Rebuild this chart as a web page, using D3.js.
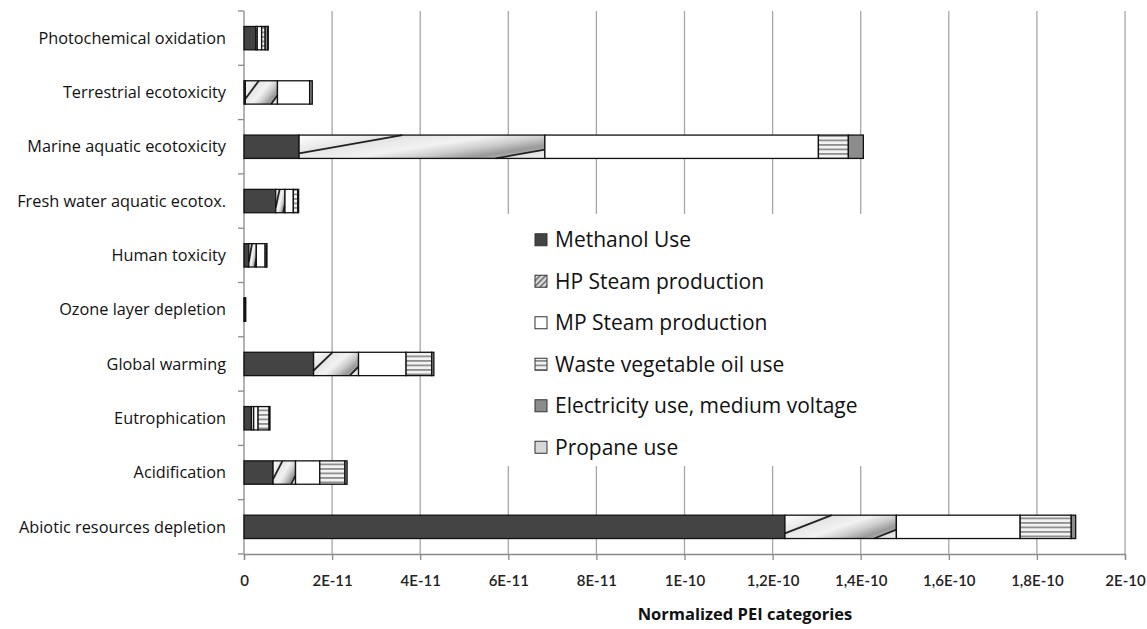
<!DOCTYPE html>
<html><head><meta charset="utf-8">
<script src="https://cdn.jsdelivr.net/npm/d3@7"></script>
<style>body{margin:0;background:#fff;} svg{display:block;font-family:"Open Sans",sans-serif;}</style>
</head><body><svg id="c" width="1147" height="629"></svg>
<script>
const categories = ["Photochemical oxidation","Terrestrial ecotoxicity","Marine aquatic ecotoxicity","Fresh water aquatic ecotox.","Human toxicity","Ozone layer depletion","Global warming","Eutrophication","Acidification","Abiotic resources depletion"];
const seriesNames = ["Methanol Use","HP Steam production","MP Steam production","Waste vegetable oil use","Electricity use, medium voltage","Propane use"];
// values in units of 1E-11
const methanolUse   = [0.27, 0.03, 1.25, 0.72, 0.11, 0.01, 1.58, 0.17, 0.66, 12.28];
const hpSteam       = [0.03, 0.73, 5.58, 0.21, 0.17, 0.01, 1.02, 0.05, 0.51, 2.53];
const mpSteam       = [0.10, 0.73, 6.21, 0.19, 0.20, 0.01, 1.08, 0.10, 0.55, 2.81];
const wasteOil      = [0.08, 0.00, 0.68, 0.10, 0.03, 0.00, 0.58, 0.25, 0.57, 1.16];
const electricity   = [0.06, 0.06, 0.34, 0.02, 0.01, 0.01, 0.05, 0.02, 0.05, 0.10];
const propane       = [0.01, 0.00, 0.00, 0.00, 0.00, 0.00, 0.00, 0.00, 0.00, 0.00];
const tickValues = [0,2,4,6,8,10,12,14,16,18,20];
const tickLabels = ["0","2E-11","4E-11","6E-11","8E-11","1E-10","1,2E-10","1,4E-10","1,6E-10","1,8E-10","2E-10"];
const xTitle = "Normalized PEI categories";

const seriesVals = [methanolUse,hpSteam,mpSteam,wasteOil,electricity,propane];
const rows = categories.map((c,i)=>{const r={cat:c}; seriesNames.forEach((s,j)=>r[s]=seriesVals[j][i]); return r;});
const stack = d3.stack().keys(seriesNames)(rows);

const svg = d3.select("#c");
const L=244, R=1125, T=11, B=554;
const x = d3.scaleLinear().domain([0,20]).range([L,R]);
const y = d3.scaleBand().domain(categories).range([T,B]).paddingInner(0.57).paddingOuter(0.285);

const defs = svg.append("defs");
function grad(id, x1,y1,x2,y2, stops){
  const g = defs.append("linearGradient").attr("id",id).attr("x1",x1).attr("y1",y1).attr("x2",x2).attr("y2",y2);
  stops.forEach(([o,c])=>g.append("stop").attr("offset",o).attr("stop-color",c));
}
grad("hpbg",0,0.2,1,0.8,[[0,"#c4c4c4"],[0.3,"#e8e8e8"],[0.5,"#f2f2f2"],[0.68,"#cdcdcd"],[0.85,"#999"],[1,"#b8b8b8"]]);
grad("hptl",0,0,1,1,[[0,"#ffffff"],[0.5,"#e4e4e4"],[1,"#a0a0a0"]]);
grad("hpbr",0,0,1,1,[[0,"#cfcfcf"],[1,"#f2f2f2"]]);
// legend hatch
const p3 = defs.append("pattern").attr("id","hpl").attr("patternUnits","userSpaceOnUse").attr("width",4).attr("height",4).attr("patternTransform","rotate(45)");
p3.append("rect").attr("width",4).attr("height",4).attr("fill","#ddd");
p3.append("rect").attr("width",1.5).attr("height",4).attr("fill","#666");
const p2 = defs.append("pattern").attr("id","wo").attr("patternUnits","userSpaceOnUse").attr("width",8).attr("height",4.5);
p2.append("rect").attr("width",8).attr("height",4.5).attr("fill","#f2f2f2");
p2.append("rect").attr("y",0).attr("width",8).attr("height",1.8).attr("fill","#8f8f8f");
const fills = {"Methanol Use":"#444","HP Steam production":"url(#hpbg)","MP Steam production":"#fff","Waste vegetable oil use":"url(#wo)","Electricity use, medium voltage":"#8c8c8c","Propane use":"#d8d8d8"};

// gridlines
svg.append("g").selectAll("line").data(tickValues.slice(1)).join("line")
  .attr("x1",d=>x(d)).attr("x2",d=>x(d)).attr("y1",T).attr("y2",B)
  .attr("stroke","#a6a6a6").attr("stroke-width",1.3);

// x axis
const xa = svg.append("g").attr("transform",`translate(0,${B})`)
  .call(d3.axisBottom(x).tickValues(tickValues).tickFormat((d,i)=>tickLabels[i]).tickSize(6).tickPadding(15));
xa.select(".domain").attr("stroke","#8a8a8a").attr("stroke-width",1.3);
xa.selectAll(".tick line").attr("stroke","#8a8a8a").attr("stroke-width",1.3);
xa.selectAll("text").attr("font-size",15).attr("font-weight",600).attr("fill","#222").attr("font-family","Lato, sans-serif");

// y axis
const yEdges = d3.range(categories.length+1).map(i=>T+i*(B-T)/categories.length);
svg.append("line").attr("x1",L).attr("x2",L).attr("y1",T).attr("y2",B).attr("stroke","#8a8a8a").attr("stroke-width",1.3);
svg.append("g").selectAll("line").data(yEdges).join("line")
  .attr("x1",L-6).attr("x2",L).attr("y1",d=>d).attr("y2",d=>d).attr("stroke","#8a8a8a").attr("stroke-width",1.3);
svg.append("g").selectAll("text").data(categories).join("text")
  .attr("x",226).attr("y",d=>y(d)+y.bandwidth()/2).attr("dy","0.35em")
  .attr("text-anchor","end").attr("font-size",16.3).attr("fill","#111").text(d=>d);

// bars
const segs = svg.append("g").selectAll("g").data(stack).join("g")
  .attr("fill",d=>fills[d.key])
  .selectAll("g").data(d=>d.filter(p=>p[1]-p[0]>0).map(p=>({p,key:d.key}))).join("g");
segs.each(function(s){
  const g = d3.select(this);
  const x0=x(s.p[0]), x1=x(s.p[1]), y0=y(s.p.data.cat), y1=y0+y.bandwidth(), w=x1-x0, h=y1-y0;
  g.append("rect").attr("x",x0).attr("width",w).attr("y",y0).attr("height",h);
  if(s.key==="HP Steam production" && w>3){
    g.append("polygon").attr("points",[[x0,y0],[x0+0.42*w,y0],[x0,y0+0.78*h]].join(" ")).attr("fill","url(#hptl)");
    g.append("polygon").attr("points",[[x0+0.8*w,y1],[x1,y1],[x1,y0+0.62*h]].join(" ")).attr("fill","url(#hpbr)");
    g.append("line").attr("x1",x0).attr("y1",y0+0.78*h).attr("x2",x0+0.42*w).attr("y2",y0).attr("stroke","#222").attr("stroke-width",1.8);
    g.append("line").attr("x1",x0+0.8*w).attr("y1",y1).attr("x2",x1).attr("y2",y0+0.62*h).attr("stroke","#222").attr("stroke-width",1.8);
  }
  g.append("rect").attr("x",x0).attr("width",w).attr("y",y0).attr("height",h)
   .attr("fill","none").attr("stroke","#111").attr("stroke-width",1.3);
});

// legend
const lg = svg.append("g");
lg.append("rect").attr("x",506).attr("y",214).attr("width",362).attr("height",252).attr("fill","#fff");
const ly = d3.scaleBand().domain(seriesNames).range([219,468]);
seriesNames.forEach(s=>{
  const cy = ly(s)+ly.bandwidth()/2;
  lg.append("rect").attr("x",535).attr("y",cy-6).attr("width",12).attr("height",12).attr("fill",s==="HP Steam production"?"url(#hpl)":fills[s]).attr("stroke","#333").attr("stroke-width",1);
  lg.append("text").attr("x",555).attr("y",cy).attr("dy","0.35em").attr("font-size",21).attr("fill","#111").text(s);
});

svg.append("text").attr("x",745).attr("y",620).attr("text-anchor","middle").attr("font-size",16.5).attr("font-weight",700).attr("fill","#111").text(xTitle);
</script></body></html>
